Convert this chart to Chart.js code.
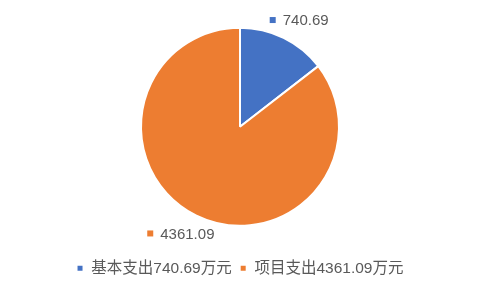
<!DOCTYPE html>
<html>
<head>
<meta charset="utf-8">
<script src="https://cdn.jsdelivr.net/npm/chart.js@4/dist/chart.umd.min.js"></script>
<style>
  html, body { margin: 0; padding: 0; background: #fff; }
  #wrap { width: 480px; height: 293px; }
</style>
</head>
<body>
<div id="wrap"><canvas id="myChart"></canvas></div>
<script>
// data
const categories = ['基本支出740.69万元', '项目支出4361.09万元'];
const values = [740.69, 4361.09];
const valueLabels = ['740.69', '4361.09'];
const colors = ['#4472C4', '#ED7D31'];

const FONT = '"Liberation Sans", "Noto Sans CJK SC", sans-serif';

// outside labels with a small colour square, like the office chart
const outsideLabels = {
    id: 'outsideLabels',
    afterDatasetsDraw(chart) {
        const ctx = chart.ctx;
        const meta = chart.getDatasetMeta(0);
        ctx.save();
        ctx.font = '15px ' + FONT;
        ctx.textBaseline = 'middle';
        meta.data.forEach((arc, i) => {
            const p = arc.getProps(['x', 'y', 'startAngle', 'endAngle', 'outerRadius'], true);
            const mid = (p.startAngle + p.endAngle) / 2 + 0.05;
            const r = p.outerRadius + 23;
            const cx = p.x + Math.cos(mid) * r;
            const cy = p.y + Math.sin(mid) * r;
            const txt = valueLabels[i];
            const tw = ctx.measureText(txt).width;
            const total = 6 + 7 + tw;
            let x = cx - total / 2;
            ctx.fillStyle = colors[i];
            ctx.fillRect(x, cy - 3, 6, 6);
            ctx.fillStyle = '#595959';
            ctx.textAlign = 'left';
            ctx.fillText(txt, x + 13, cy + 1);
        });
        ctx.restore();
    }
};

const ctx = document.getElementById('myChart').getContext('2d');
const myChart = new Chart(ctx, {
    type: 'pie',
    data: {
        labels: categories,
        datasets: [{
            data: values,
            backgroundColor: colors,
            borderColor: '#ffffff',
            borderWidth: 2,
            radius: 99
        }]
    },
    options: {
        responsive: true,
        maintainAspectRatio: false,
        animation: false,
        layout: { padding: { top: 1, bottom: 7 } },
        plugins: {
            legend: {
                position: 'bottom',
                labels: {
                    boxWidth: 7,
                    boxHeight: 7,
                    padding: 8,
                    color: '#595959',
                    font: { size: 15.5, family: FONT }
                }
            },
            tooltip: { enabled: false }
        }
    },
    plugins: [outsideLabels]
});
</script>
</body>
</html>
